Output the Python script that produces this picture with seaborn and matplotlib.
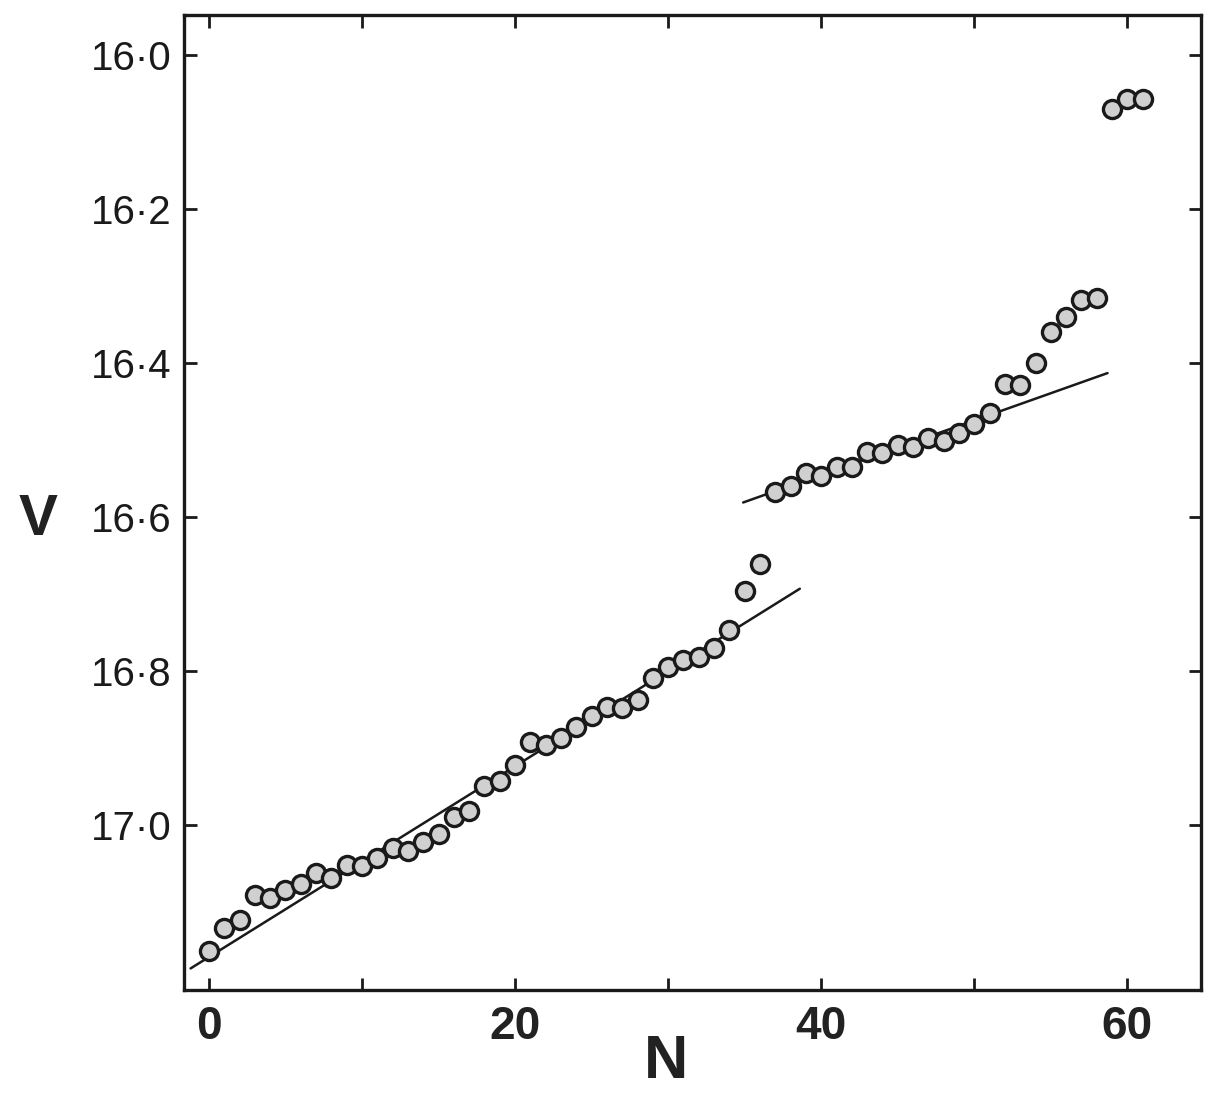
import numpy as np
import pandas as pd
import matplotlib
matplotlib.use("Agg")
import matplotlib.pyplot as plt
import seaborn as sns

# ---- data ----
n_values = list(range(0, 62))
v_values = [17.164, 17.134, 17.123, 17.091, 17.095, 17.084, 17.077, 17.062, 17.069, 17.052,
            17.053, 17.043, 17.030, 17.034, 17.022, 17.012, 16.990, 16.981, 16.949, 16.943,
            16.922, 16.892, 16.896, 16.887, 16.873, 16.858, 16.847, 16.848, 16.838, 16.809,
            16.795, 16.786, 16.782, 16.770, 16.747, 16.696, 16.661, 16.568, 16.560, 16.543,
            16.547, 16.535, 16.535, 16.516, 16.517, 16.506, 16.509, 16.497, 16.501, 16.491,
            16.479, 16.465, 16.427, 16.429, 16.400, 16.360, 16.340, 16.318, 16.316, 16.070,
            16.057, 16.057]

fit1_n = [-1.2, 38.6]
fit1_v = [17.186, 16.693]
fit2_n = [34.9, 58.7]
fit2_v = [16.581, 16.413]

x_ticks = [0, 10, 20, 30, 40, 50, 60]
x_tick_labels = ["0", "", "20", "", "40", "", "60"]
y_ticks = [16.0, 16.2, 16.4, 16.6, 16.8, 17.0]
y_tick_labels = ["16·0", "16·2", "16·4", "16·6", "16·8", "17·0"]

# ---- plot ----
sns.set_theme(style="white")
plt.rcParams['font.family'] = ['Liberation Sans', 'DejaVu Sans']

fig = plt.figure(figsize=(12.13, 11.0), dpi=100)
ax = fig.add_axes([0.1517, 0.10, 0.990 - 0.1517, 0.9864 - 0.10])

df = pd.DataFrame({"N": n_values, "V": v_values})
line1 = pd.DataFrame({"N": fit1_n, "V": fit1_v})
line2 = pd.DataFrame({"N": fit2_n, "V": fit2_v})

sns.lineplot(data=line1, x="N", y="V", ax=ax, color="#1a1a1a", linewidth=1.8, sort=False)
sns.lineplot(data=line2, x="N", y="V", ax=ax, color="#1a1a1a", linewidth=1.8, sort=False)
sns.scatterplot(data=df, x="N", y="V", ax=ax, s=170, facecolor="#d0d0d0",
                edgecolor="#1a1a1a", linewidth=2.4, zorder=3)

ax.set_xlim(-1.63, 64.8)
ax.set_ylim(17.214, 15.948)

ax.set_xticks(x_ticks)
ax.set_xticklabels(x_tick_labels, fontsize=33, fontweight="bold", color="#222222")
ax.set_yticks(y_ticks)
ax.set_yticklabels(y_tick_labels, fontsize=29, color="#1a1a1a")

ax.tick_params(axis="both", direction="in", length=9, width=2, color="#1a1a1a",
               top=True, right=True, bottom=True, left=True)
ax.tick_params(axis="x", pad=11)
ax.tick_params(axis="y", pad=9)

for sp in ax.spines.values():
    sp.set_visible(True)
    sp.set_linewidth(2.4)
    sp.set_color("#1a1a1a")

ax.set_xlabel("")
ax.set_ylabel("")
fig.text(666 / 1213, 1 - 1062 / 1100, "N", fontsize=44, fontweight="bold",
         ha="center", va="center", color="#222222")
fig.text(38 / 1213, 1 - 520 / 1100, "V", fontsize=42, fontweight="bold",
         ha="center", va="center", color="#222222")

fig.savefig("out.png", dpi=100, facecolor="white")
